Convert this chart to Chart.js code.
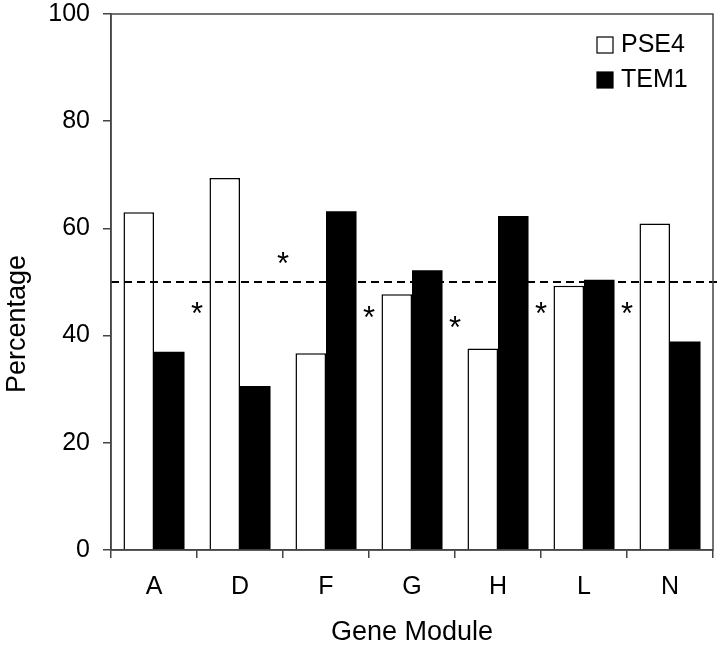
<!DOCTYPE html>
<html>
<head>
<meta charset="utf-8">
<script src="https://cdn.jsdelivr.net/npm/chart.js@4.4.0/dist/chart.umd.min.js"></script>
<style>
    body { margin: 0; background: #fff; }
    #wrap { width: 720px; height: 645px; }
</style>
</head>
<body>
<div id="wrap"><canvas id="geneChart" width="720" height="645"></canvas></div>
<script>
// Dados do gráfico
const modules = ['A', 'D', 'F', 'G', 'H', 'L', 'N'];
const pse4 = [63.0, 69.4, 36.7, 47.7, 37.6, 49.3, 60.9];
const tem1 = [37.0, 30.6, 63.2, 52.2, 62.3, 50.4, 38.9];
const yTicks = [0, 20, 40, 60, 80, 100];
const refLine = 50;
// asteriscos: posição entre a categoria i e i+1, e altura no eixo y
const starAfter = [0, 1, 2, 3, 4, 5];
const starValues = [45.1, 54.4, 44.4, 42.6, 45.1, 45.1];

const FONT = '"Liberation Sans", Arial, sans-serif';

// Caixa em volta da área do gráfico, linha de referência, asteriscos, legenda
const extras = {
    id: 'extras',
    afterDatasetsDraw(chart) {
        const ctx = chart.ctx;
        const area = chart.chartArea;
        const x = chart.scales.x;
        const y = chart.scales.y;

        // linha tracejada em 50%
        const yRef = y.getPixelForValue(refLine);
        ctx.save();
        ctx.strokeStyle = '#000';
        ctx.lineWidth = 2;
        ctx.setLineDash([8, 5]);
        ctx.beginPath();
        ctx.moveTo(area.left, yRef);
        ctx.lineTo(area.right + 4, yRef);
        ctx.stroke();
        ctx.restore();

        // asteriscos
        ctx.save();
        ctx.fillStyle = '#000';
        ctx.font = '31px ' + FONT;
        ctx.textAlign = 'center';
        ctx.textBaseline = 'alphabetic';
        const m = ctx.measureText('*');
        const shift = (m.actualBoundingBoxAscent - m.actualBoundingBoxDescent) / 2;
        starAfter.forEach(function(i, k) {
            const px = (x.getPixelForValue(i) + x.getPixelForValue(i + 1)) / 2;
            const py = y.getPixelForValue(starValues[k]);
            ctx.fillText('*', px, py + shift);
        });
        ctx.restore();

        // borda
        ctx.save();
        ctx.strokeStyle = '#444';
        ctx.lineWidth = 1.5;
        ctx.strokeRect(area.left, area.top, area.right - area.left, area.bottom - area.top);
        ctx.restore();

        // legenda dentro da área
        ctx.save();
        ctx.font = '25px ' + FONT;
        ctx.textBaseline = 'middle';
        chart.data.datasets.forEach(function(ds, i) {
            const bx = area.right - 116;
            const cy = area.top + 31 + i * 35;
            ctx.fillStyle = ds.backgroundColor;
            ctx.fillRect(bx, cy - 8, 16, 16);
            ctx.strokeStyle = '#000';
            ctx.lineWidth = 1.2;
            ctx.strokeRect(bx, cy - 8, 16, 16);
            ctx.fillStyle = '#000';
            ctx.fillText(ds.label, bx + 24, cy);
        });
        ctx.restore();

        // título do eixo y
        ctx.save();
        ctx.font = '27px ' + FONT;
        ctx.fillStyle = '#000';
        ctx.textAlign = 'center';
        ctx.textBaseline = 'alphabetic';
        ctx.translate(25, (area.top + area.bottom) / 2 + 42);
        ctx.rotate(-Math.PI / 2);
        ctx.fillText('Percentage', 0, 0);
        ctx.restore();
    }
};

document.addEventListener('DOMContentLoaded', function() {
    const ctx = document.getElementById('geneChart').getContext('2d');
    const geneChart = new Chart(ctx, {
        type: 'bar',
        data: {
            labels: modules,
            datasets: [{
                label: 'PSE4',
                data: pse4,
                backgroundColor: '#ffffff',
                borderColor: '#000000',
                borderWidth: 1.5,
                categoryPercentage: 0.71,
                barPercentage: 1.0
            }, {
                label: 'TEM1',
                data: tem1,
                backgroundColor: '#000000',
                borderColor: '#000000',
                borderWidth: 0,
                categoryPercentage: 0.71,
                barPercentage: 1.0
            }]
        },
        options: {
            responsive: false,
            animation: false,
            layout: {
                padding: { top: 14, right: 7, left: 0, bottom: 0 }
            },
            scales: {
                x: {
                    grid: {
                        display: true,
                        drawOnChartArea: false,
                        drawTicks: true,
                        tickLength: 8,
                        color: '#444',
                        lineWidth: 1.5
                    },
                    border: { color: '#444', width: 1.5 },
                    ticks: {
                        color: '#000',
                        padding: 14,
                        font: { family: FONT, size: 25 }
                    },
                    title: {
                        display: true,
                        text: 'Gene Module',
                        color: '#000',
                        padding: { top: 0, bottom: 0 },
                        font: { family: FONT, size: 27, lineHeight: 0.9 }
                    },
                    afterFit: function(s) {
                        s.height = 95;
                        s.paddingLeft = 0;
                        s.paddingRight = 0;
                    }
                },
                y: {
                    min: 0,
                    max: 100,
                    afterBuildTicks: function(s) {
                        s.ticks = yTicks.map(function(v) { return { value: v }; });
                    },
                    grid: {
                        display: true,
                        drawOnChartArea: false,
                        drawTicks: true,
                        tickLength: 8,
                        color: '#444',
                        lineWidth: 1.5
                    },
                    border: { color: '#444', width: 1.5 },
                    ticks: {
                        color: '#000',
                        padding: 13,
                        font: { family: FONT, size: 25 }
                    },
                    afterFit: function(s) {
                        s.width = 111;
                        s.paddingTop = 0;
                        s.paddingBottom = 0;
                    }
                }
            },
            plugins: {
                legend: { display: false },
                tooltip: { enabled: false }
            }
        },
        plugins: [extras]
    });
});
</script>
</body>
</html>
